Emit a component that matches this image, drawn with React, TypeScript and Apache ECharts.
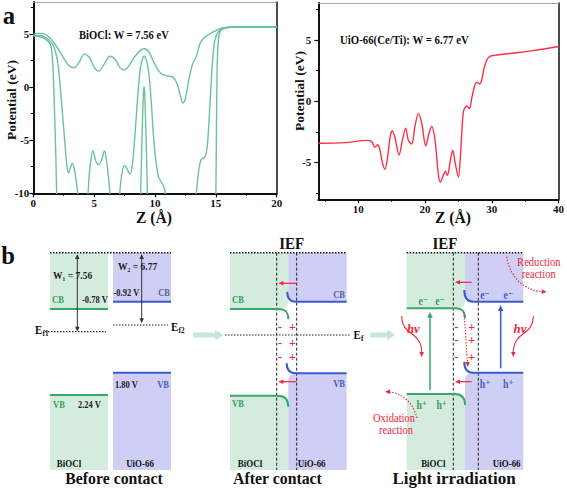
import React, { useEffect, useRef } from 'react';
import * as echarts from 'echarts';

// ---------- data ----------
const biocl_curveA: [number, number][] = [
  [0, 4.95], [0.3, 5.05], [0.7, 5.05], [1.2, 4.8], [1.8, 4.0], [2.4, 2.9], [2.9, 2.05], [3.35, 1.8], [3.75, 2.3],
  [4.2, 3.1], [4.6, 2.8], [5.0, 1.85], [5.4, 1.5], [5.8, 2.1], [6.3, 2.9], [6.8, 2.5], [7.1, 1.85], [7.45, 1.6],
  [7.8, 1.9], [8.3, 2.8], [8.8, 3.45], [9.1, 3.6], [9.5, 3.3], [10.0, 2.1], [10.5, 1.25], [11.0, 1.05], [11.5, 0.9],
  [11.85, 0.2], [12.1, -0.9], [12.3, -1.5], [12.5, -1.1], [12.8, 0.8], [13.1, 2.2], [13.4, 2.9], [13.7, 4.1],
  [14.0, 4.6], [14.5, 5.0], [15.0, 5.3], [15.5, 5.55], [16.0, 5.62], [16.5, 5.65], [18, 5.65], [20, 5.65],
];
const biocl_curveB: [number, number][] = [
  [0, 4.85], [0.6, 4.85], [1.2, 4.5], [1.6, 4.0], [1.85, 3.2], [2.05, 2.0], [2.3, -1.2], [2.6, -5.3], [2.75, -7.3],
  [2.9, -8.1], [3.05, -7.6], [3.2, -7.2], [3.35, -7.6], [3.5, -8.6], [3.65, -10], [3.8, -13], [4.35, -13], [4.5, -10],
  [4.65, -7.6], [4.9, -6.0], [5.15, -7.0], [5.4, -7.3], [5.6, -6.9], [5.85, -6.0], [6.05, -7.2], [6.2, -8.8], [6.3, -10],
  [6.45, -13], [6.95, -13], [7.1, -10], [7.3, -8.0], [7.5, -7.4], [7.7, -7.7], [7.95, -8.2], [8.15, -7.2], [8.4, -3.8],
  [8.6, -0.6], [8.8, 1.8], [9.0, 2.75], [9.1, 2.9], [9.3, 2.5], [9.5, 1.2], [9.7, -1.5], [9.9, -5.0], [10.1, -7.2],
  [10.3, -8.5], [10.5, -8.9], [10.7, -9.3], [10.85, -10], [11.0, -13], [13.25, -13], [13.4, -10], [13.6, -7.8],
  [13.8, -6.8], [14.1, -6.6], [14.3, -5.5], [14.5, -2.0], [14.7, 2.0], [14.9, 4.3], [15.2, 5.2], [15.6, 5.5],
  [16.0, 5.6], [16.5, 5.65], [20, 5.65],
];
const biocl_curveC: [number, number][] = [
  [0, 4.8], [0.5, 4.75], [1.0, 4.5], [1.4, 4.0], [1.55, 3.0], [1.65, 1.0], [1.75, -2.5], [1.85, -6.5], [1.92, -10],
  [2.0, -14], [8.7, -14], [8.82, -10], [8.95, -4], [9.05, -0.5], [9.1, 0], [9.15, -0.5], [9.25, -4], [9.38, -10],
  [9.5, -14], [14.9, -14], [15.0, -10], [15.05, -4], [15.1, 1.5], [15.2, 4.3], [15.4, 5.3], [15.8, 5.55],
  [16.5, 5.65], [20, 5.65],
];
const uio_curve: [number, number][] = [
  [4, -3.43], [8, -3.38], [11.2, -3.2], [12.0, -3.3], [12.5, -3.75], [12.9, -3.55], [13.2, -3.9], [13.6, -5.0],
  [14.0, -5.55], [14.4, -4.5], [14.8, -2.8], [15.1, -2.4], [15.5, -3.0], [16.1, -4.4], [16.6, -3.2], [17.1, -2.2],
  [17.5, -3.2], [18.0, -3.5], [18.5, -2.0], [19.0, -1.0], [19.5, -1.8], [20.1, -3.65], [20.6, -2.6], [21.0, -2.05],
  [21.5, -3.2], [22.0, -6.0], [22.3, -6.6], [22.7, -6.1], [23.05, -5.7], [23.35, -6.05], [23.8, -4.8], [24.15, -4.0],
  [24.5, -5.0], [25.0, -6.2], [25.3, -4.5], [25.75, -0.85], [26.25, -0.4], [26.65, -0.6], [27.0, 0.25], [27.4, 1.2],
  [27.75, 1.55], [28.15, 1.4], [28.5, 1.75], [28.85, 2.7], [29.25, 3.35], [29.6, 3.6], [30.0, 3.7], [33.0, 3.9],
  [36, 4.1], [40, 4.45],
];
const leftXTicks = [0, 5, 10, 15, 20];
const leftXMinor = [2.5, 7.5, 12.5, 17.5];
const leftYTicks = [-10, -5, 0, 5];
const leftYMinor = [-7.5, -2.5, 2.5, 7.5];
const rightXTicks = [10, 20, 30, 40];
const rightXMinor = [5, 15, 25, 35];
const rightYTicks = [-5, 0, 5];
const rightYMinor = [-7.5, -2.5, 2.5, 7.5];

const bioclTitle = 'BiOCl: W = 7.56 eV';
const uioTitle = 'UiO-66(Ce/Ti): W = 6.77 eV';
const workFunctions = ['W₁ = 7.56', 'W₂ = 6.77'];
const bandPotentials = ['-0.78 V', '2.24 V', '-0.92 V', '1.80 V'];
const materials = ['BiOCl', 'UiO-66'];
const stages = ['Before contact', 'After contact', 'Light irradiation'];

// ---------- styles ----------
const FONT = 'Liberation Serif, DejaVu Serif, serif';
const GF = '#d4ecde';
const BF = '#cfcff5';
const GREEN = '#38a86a';
const BLUE = '#3b58d3';
const GREEN_T = '#3a9a5e';
const BLUE_T = '#4a5cc0';
const CB_BLUE_T = '#58618f';
const RED = '#f2253c';
const LINE_GREEN = '#68c497';
const LINE_RED = '#ff3043';

function T(x: number, y: number, text: string, o: any = {}) {
  const align = o.align ?? 'center';
  return {
    type: 'text', x, y, scaleX: o.sx ?? 0.85, rotation: o.rot ?? 0, z: 30, silent: true,
    style: {
      text, x: 0, y: 0, fill: o.color ?? '#111', fontSize: o.size ?? 10,
      fontWeight: o.bold === false ? 'normal' : 'bold', fontStyle: o.italic ? 'italic' : 'normal',
      fontFamily: FONT, align, verticalAlign: 'middle', textAlign: align, textVerticalAlign: 'middle',
    },
  };
}
function L(x1: number, y1: number, x2: number, y2: number, color = '#111', w = 1, dash: any = null, z = 10) {
  return { type: 'line', z, silent: true, shape: { x1, y1, x2, y2 }, style: { stroke: color, lineWidth: w, lineDash: dash } };
}
function Bz(x1: number, y1: number, c1x: number, c1y: number, c2x: number, c2y: number, x2: number, y2: number, color: string, w = 2, dash: any = null) {
  return {
    type: 'bezierCurve', z: 10, silent: true,
    shape: { x1, y1, cpx1: c1x, cpy1: c1y, cpx2: c2x, cpy2: c2y, x2, y2 },
    style: { stroke: color, lineWidth: w, lineDash: dash, fill: null },
  };
}
function R(x: number, y: number, w: number, h: number, fill: string, r: any = 0) {
  return { type: 'rect', z: 1, silent: true, shape: { x, y, width: w, height: h, r }, style: { fill } };
}
function head(x: number, y: number, ang: number, color: string, size = 5, z = 12) {
  const bx = x - size * Math.cos(ang), by = y - size * Math.sin(ang);
  const px = -Math.sin(ang) * size * 0.45, py = Math.cos(ang) * size * 0.45;
  return { type: 'polygon', z, silent: true, shape: { points: [[x, y], [bx + px, by + py], [bx - px, by - py]] }, style: { fill: color } };
}
function arrow(x1: number, y1: number, x2: number, y2: number, color: string, w = 1.2, size = 5, dash: any = null) {
  const a = Math.atan2(y2 - y1, x2 - x1);
  const ex = x2 - size * 0.7 * Math.cos(a), ey = y2 - size * 0.7 * Math.sin(a);
  return [L(x1, y1, ex, ey, color, w, dash), head(x2, y2, a, color, size)];
}
function dblArrow(x: number, y1: number, y2: number, color: string) {
  return [L(x, y1 + 3, x, y2 - 3, color, 1), head(x, y1, -Math.PI / 2, color, 5), head(x, y2, Math.PI / 2, color, 5)];
}
function bigArrow(x1: number, x2: number, y: number) {
  return [
    L(x1, y, x2 - 6, y, '#c8e6e0', 5, null, 2),
    { type: 'polygon', z: 2, silent: true, shape: { points: [[x2, y], [x2 - 8, y - 5.5], [x2 - 8, y + 5.5]] }, style: { fill: '#c8e3e6' } },
  ];
}
const DOT = [1.5, 1.5];

function buildGraphic() {
  const el: any[] = [];
  // panel labels
  el.push(T(9, 15, 'a', { size: 26, sx: 0.95 }));
  el.push(T(8, 255, 'b', { size: 26, sx: 0.95 }));
  // top chart annotations & axis names
  el.push(T(79, 35, bioclTitle, { align: 'left', size: 12, sx: 0.88 }));
  el.push(T(340, 39.3, uioTitle, { align: 'left', size: 12, sx: 0.9 }));
  el.push(T(11.7, 100, 'Potential (eV)', { size: 13.5, sx: 1, rot: Math.PI / 2 }));
  el.push(T(299.3, 91, 'Potential (eV)', { size: 13.5, sx: 1, rot: Math.PI / 2 }));
  el.push(T(154, 217, 'Z (Å)', { size: 17, sx: 0.92 }));
  el.push(T(453, 217, 'Z (Å)', { size: 17, sx: 0.92 }));

  // ===== Panel 1: before contact =====
  el.push(R(50, 253, 58, 56, GF), R(50, 395, 58, 75, GF), R(113, 253, 58, 48.7, BF), R(113, 372.7, 58, 97.3, BF));
  el.push(L(50, 252.7, 171, 252.7, '#111', 1.5, DOT));
  el.push(L(50, 309, 108, 309, GREEN, 2), L(50, 395, 108, 395, GREEN, 2));
  el.push(L(113, 301.7, 171, 301.7, BLUE, 2), L(113, 372.7, 171, 372.7, BLUE, 2));
  el.push(...dblArrow(77.3, 254, 331.7, '#333'), ...dblArrow(141.7, 254, 323.3, '#333'));
  el.push(L(45, 331.7, 106, 331.7, '#222', 1.2, DOT), L(113, 325, 168, 325, '#222', 1.2, DOT));
  el.push(T(53, 275, workFunctions[0], { align: 'left', size: 10, sx: 0.95, color: '#222' }));
  el.push(T(118, 266.7, workFunctions[1], { align: 'left', size: 10, sx: 0.95, color: '#222' }));
  el.push(T(52, 300, 'CB', { align: 'left', color: GREEN_T }));
  el.push(T(82, 300, bandPotentials[0], { align: 'left', color: '#222' }));
  el.push(T(113.5, 292.7, bandPotentials[2], { align: 'left', color: '#222' }));
  el.push(T(170, 292.7, 'CB', { align: 'right', color: CB_BLUE_T }));
  el.push(T(115, 384.3, bandPotentials[3], { align: 'left', color: '#222' }));
  el.push(T(169, 384.3, 'VB', { align: 'right', color: BLUE_T }));
  el.push(T(53, 405, 'VB', { align: 'left', color: GREEN_T }));
  el.push(T(78, 405, bandPotentials[1], { align: 'left', color: '#222' }));
  el.push(T(69, 463, materials[0], { size: 10.5 }), T(140, 463, materials[1], { size: 10.5 }));
  el.push(T(114, 478, stages[0], { size: 17, sx: 0.93 }));
  el.push(T(35, 330, 'E', { align: 'left', size: 12, sx: 0.9 }), T(42.5, 333.5, 'f1', { align: 'left', size: 8, sx: 0.9 }));
  el.push(T(171, 326.7, 'E', { align: 'left', size: 12, sx: 0.9 }), T(178.5, 330.2, 'f2', { align: 'left', size: 8, sx: 0.9 }));
  el.push(...bigArrow(193.3, 223.3, 335));

  // ===== Panel 2: after contact =====
  el.push(R(230, 253, 58.3, 56, GF, [0, 0, 7, 0]), R(288.3, 253, 58.4, 48.7, BF, [0, 0, 0, 7]));
  el.push(R(230, 395.7, 58.3, 74.3, GF, [0, 9, 0, 0]), R(288.3, 373.3, 58.4, 96.7, BF, [7, 0, 0, 0]));
  el.push(L(230, 252.7, 346.7, 252.7, '#111', 1.5, DOT));
  el.push(L(276.7, 252.7, 276.7, 470, '#222', 1, [3, 2]), L(296.7, 252.7, 296.7, 470, '#222', 1, [3, 2]));
  el.push(L(230, 309, 278, 309, GREEN, 2), Bz(278, 309, 285.5, 309, 288.3, 312, 288.3, 319.3, GREEN));
  el.push(L(346.7, 301.7, 296, 301.7, BLUE, 2), Bz(296, 301.7, 289, 301.7, 287.3, 297, 287.3, 291.7, BLUE));
  el.push(L(346.7, 373.3, 296, 373.3, BLUE, 2), Bz(296, 373.3, 289, 373.3, 286.7, 369, 286.7, 363.3, BLUE));
  el.push(L(230, 395.7, 278, 395.7, GREEN, 2), Bz(278, 395.7, 286, 395.7, 288.3, 400, 288.3, 406.7, GREEN));
  el.push(...arrow(296.7, 283.3, 278.3, 283.3, RED, 1.2, 5), ...arrow(296.7, 381.7, 278.3, 381.7, RED, 1.2, 5));
  [326.7, 343.3, 357.3].forEach((y) => {
    el.push(T(280, y, '-', { color: RED, size: 12, sx: 1 }), T(292.3, y, '+', { color: RED, size: 12, sx: 1 }));
  });
  el.push(L(225, 335, 350, 335, '#223', 1.2, DOT));
  el.push(T(353.5, 335, 'E', { align: 'left', size: 12, sx: 0.9 }), T(361, 338.5, 'f', { align: 'left', size: 8, sx: 0.9 }));
  el.push(T(232, 299.3, 'CB', { align: 'left', color: GREEN_T }));
  el.push(T(345, 295, 'CB', { align: 'right', color: CB_BLUE_T }));
  el.push(T(345, 383.3, 'VB', { align: 'right', color: BLUE_T }));
  el.push(T(232, 404, 'VB', { align: 'left', color: GREEN_T }));
  el.push(T(250, 463, materials[0], { size: 10.5 }), T(311.7, 463, materials[1], { size: 10.5 }));
  el.push(T(277.5, 478, stages[1], { size: 17, sx: 0.93 }));
  el.push(T(291.7, 243, 'IEF', { size: 17, sx: 0.88 }));
  el.push(...bigArrow(370, 395, 335));

  // ===== Panel 3: light irradiation =====
  el.push(R(406.7, 253, 58.3, 55.3, GF, [0, 0, 7, 0]), R(465, 253, 58.3, 48.7, BF, [0, 0, 0, 7]));
  el.push(R(406.7, 394, 58.3, 76, GF, [0, 9, 0, 0]), R(465, 372.7, 58.3, 97.3, BF, [7, 0, 0, 0]));
  el.push(L(406.7, 252.7, 523.3, 252.7, '#111', 1.5, DOT));
  el.push(L(453.3, 252.7, 453.3, 470, '#222', 1, [3, 2]), L(478.3, 252.7, 478.3, 470, '#222', 1, [3, 2]));
  el.push(L(406.7, 308.3, 455, 308.3, GREEN, 2), Bz(455, 308.3, 462.5, 308.3, 465, 311.5, 465, 318.3, GREEN));
  el.push(L(523.3, 301.7, 473.3, 301.7, BLUE, 2), Bz(473.3, 301.7, 466, 301.7, 464.3, 296, 464.3, 290, BLUE));
  el.push(L(523.3, 372.7, 473, 372.7, BLUE, 2), Bz(473, 372.7, 466, 372.7, 464.3, 367.5, 464.3, 361.7, BLUE));
  el.push(L(406.7, 394, 455, 394, GREEN, 2), Bz(455, 394, 462.5, 394, 465, 398, 465, 405, GREEN));
  el.push(...arrow(471.7, 282.3, 455, 282.3, RED, 1.2, 5), ...arrow(471.7, 381.7, 455, 381.7, RED, 1.2, 5));
  [326.7, 340, 356.7].forEach((y) => {
    el.push(T(456.5, y, '-', { color: RED, size: 12, sx: 1 }), T(471.7, y, '+', { color: RED, size: 12, sx: 1 }));
  });
  el.push(...arrow(430, 390, 430, 311.7, GREEN, 1.5, 6), ...arrow(500.7, 368.3, 500.7, 305, BLUE, 1.5, 6));
  el.push(T(423.3, 300.7, 'e⁻', { color: GREEN_T, size: 11.5 }), T(440, 300.7, 'e⁻', { color: GREEN_T, size: 11.5 }));
  el.push(T(485, 295, 'e⁻', { color: BLUE_T, size: 11.5 }), T(508.3, 295, 'e⁻', { color: BLUE_T, size: 11.5 }));
  el.push(T(485, 384, 'h⁺', { color: BLUE_T, size: 11.5 }), T(508.3, 384, 'h⁺', { color: BLUE_T, size: 11.5 }));
  el.push(T(421.7, 405, 'h⁺', { color: GREEN_T, size: 11.5 }), T(441.7, 405, 'h⁺', { color: GREEN_T, size: 11.5 }));
  el.push(T(413.3, 328.3, 'hν', { color: RED, italic: true, size: 13.5, sx: 0.95 }));
  el.push(T(520, 328.3, 'hν', { color: RED, italic: true, size: 13.5, sx: 0.95 }));
  el.push(Bz(401.7, 316, 402, 337, 421, 330, 421.7, 352, RED, 1.1), head(421.7, 357, Math.PI / 2, RED, 5));
  el.push(Bz(533.3, 316, 533, 337, 514, 330, 513.3, 352, RED, 1.1), head(513.3, 357, Math.PI / 2, RED, 5));
  el.push(Bz(463.5, 312, 466, 330, 466, 350, 467.6, 362, RED, 1.1, [1.5, 1.5]), head(468, 367, 1.45, RED, 5));
  el.push(Bz(506.7, 256.7, 510, 280, 528, 291, 541, 291.5, RED, 1.1, [1.5, 1.5]), head(546.7, 291.7, 0, RED, 5));
  el.push(Bz(417, 418, 413, 400, 398, 392.5, 390, 392, RED, 1.1, [1.5, 1.5]), head(385, 391.7, Math.PI, RED, 5));
  el.push(T(538.8, 261.7, 'Reduction', { color: RED, bold: false, size: 11.5, sx: 0.92 }));
  el.push(T(538.8, 274.3, 'reaction', { color: RED, bold: false, size: 11.5, sx: 0.92 }));
  el.push(T(394, 417.7, 'Oxidation', { color: RED, bold: false, size: 11.5, sx: 0.92 }));
  el.push(T(396, 430, 'reaction', { color: RED, bold: false, size: 11.5, sx: 0.92 }));
  el.push(T(433.3, 463, materials[0], { size: 10.5 }), T(506.7, 463, materials[1], { size: 10.5 }));
  el.push(T(454, 478, stages[2], { size: 17, sx: 1.0 }));
  el.push(T(445, 243, 'IEF', { size: 17, sx: 0.88 }));
  return el;
}

const labelStyle = { color: '#111', fontWeight: 'bold', fontSize: 11, fontFamily: FONT };

function mainX(grid: number, min: number, max: number, ticks: number[]) {
  return {
    type: 'value', gridIndex: grid, min, max, position: 'bottom',
    axisLine: { show: true, onZero: false, lineStyle: { color: '#111', width: 2 } },
    axisTick: { show: true, inside: false, length: 4, customValues: ticks, lineStyle: { color: '#111', width: 1.2 } },
    axisLabel: { ...labelStyle, margin: 4, customValues: ticks },
    splitLine: { show: false },
  };
}
function minorX(grid: number, min: number, max: number, ticks: number[]) {
  return {
    type: 'value', gridIndex: grid, min, max, position: 'bottom',
    axisLine: { show: false, onZero: false },
    axisTick: { show: true, length: 2.5, customValues: ticks, lineStyle: { color: '#111', width: 1 } },
    axisLabel: { show: false }, splitLine: { show: false },
  };
}
function topX(grid: number, min: number, max: number) {
  return {
    type: 'value', gridIndex: grid, min, max, position: 'top',
    axisLine: { show: true, onZero: false, lineStyle: { color: '#999', width: 1, type: 'dotted' } },
    axisTick: { show: false }, axisLabel: { show: false }, splitLine: { show: false },
  };
}
function mainY(grid: number, min: number, max: number, ticks: number[], margin: number) {
  return {
    type: 'value', gridIndex: grid, min, max, position: 'left',
    axisLine: { show: true, onZero: false, lineStyle: { color: '#111', width: 2 } },
    axisTick: { show: true, inside: false, length: 4, customValues: ticks, lineStyle: { color: '#111', width: 1.2 } },
    axisLabel: { ...labelStyle, margin, customValues: ticks },
    splitLine: { show: false },
  };
}
function minorY(grid: number, min: number, max: number, ticks: number[]) {
  return {
    type: 'value', gridIndex: grid, min, max, position: 'left',
    axisLine: { show: false, onZero: false },
    axisTick: { show: true, length: 2.5, customValues: ticks, lineStyle: { color: '#111', width: 1 } },
    axisLabel: { show: false }, splitLine: { show: false },
  };
}
function rightY(grid: number, min: number, max: number) {
  return {
    type: 'value', gridIndex: grid, min, max, position: 'right',
    axisLine: { show: true, onZero: false, lineStyle: { color: '#111', width: 1.5 } },
    axisTick: { show: false }, axisLabel: { show: false }, splitLine: { show: false },
  };
}

export default function App() {
  const ref = useRef<HTMLDivElement>(null);
  useEffect(() => {
    if (!ref.current) return;
    const chart = echarts.init(ref.current, null, { renderer: 'svg' });
    const greenLine = (data: [number, number][]) => ({
      type: 'line', xAxisIndex: 0, yAxisIndex: 0, data, showSymbol: false, smooth: 0.3, clip: true,
      lineStyle: { color: LINE_GREEN, width: 1.4 }, silent: true,
    });
    chart.setOption({
      animation: false,
      backgroundColor: '#ffffff',
      grid: [
        { left: 33.3, top: 2, width: 243.4, height: 191.3 },
        { left: 318.3, top: 3, width: 240.7, height: 196.3 },
      ],
      xAxis: [
        mainX(0, 0, 20, leftXTicks), minorX(0, 0, 20, leftXMinor), topX(0, 0, 20),
        mainX(1, 4, 40, rightXTicks), minorX(1, 4, 40, rightXMinor), topX(1, 4, 40),
      ],
      yAxis: [
        mainY(0, -10, 8, leftYTicks, 4), minorY(0, -10, 8, leftYMinor), rightY(0, -10, 8),
        mainY(1, -8, 8, rightYTicks, 7), minorY(1, -8, 8, rightYMinor), rightY(1, -8, 8),
      ],
      series: [
        greenLine(biocl_curveA),
        greenLine(biocl_curveB),
        greenLine(biocl_curveC),
        {
          type: 'line', xAxisIndex: 3, yAxisIndex: 3, data: uio_curve, showSymbol: false, smooth: 0.3, clip: true,
          lineStyle: { color: LINE_RED, width: 1.4 }, silent: true,
        },
      ],
      graphic: { elements: buildGraphic() },
    });
    return () => chart.dispose();
  }, []);
  return <div ref={ref} style={{ position: 'fixed', left: 0, top: 0, width: 567, height: 490, background: '#fff' }} />;
}
